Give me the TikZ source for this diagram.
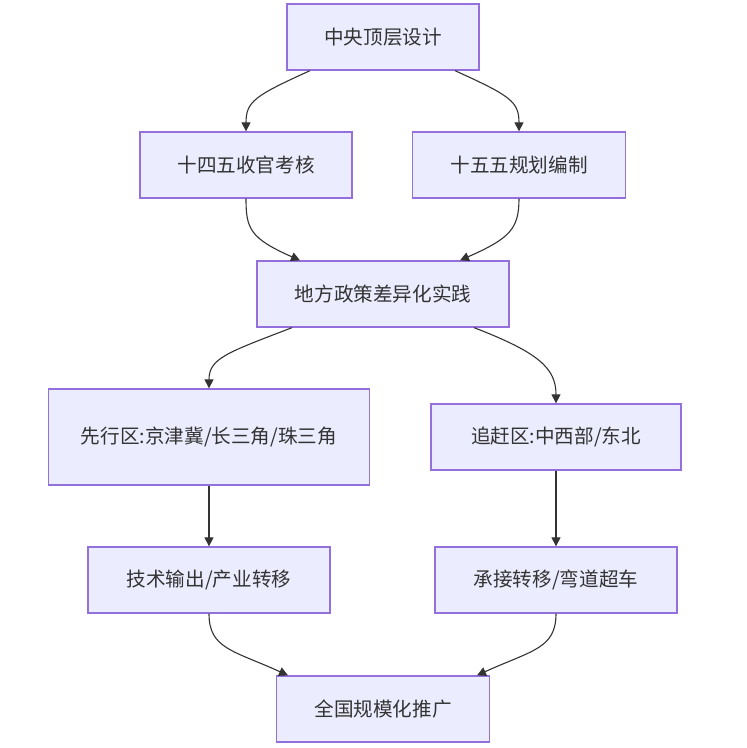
\documentclass[tikz,border=0pt]{standalone}
\usepackage{fontspec}
\setmainfont{Noto Sans CJK SC}
\usetikzlibrary{arrows.meta}
\definecolor{boxfill}{HTML}{ECECFF}
\definecolor{boxline}{HTML}{9370DB}
\definecolor{ink}{HTML}{333333}
\begin{document}
\begin{tikzpicture}[x=1pt, y=-1pt,
    box/.style={draw=boxline, fill=boxfill, line width=1.3pt, inner sep=0pt,
        minimum height=66pt, text=ink, font=\fontsize{19.6}{23}\selectfont},
    flow/.style={-{Triangle[length=9pt, width=9pt]}, line width=1.1pt, ink}]
                % Frame
                \useasboundingbox (0,0) rectangle (747,748);
                
                % Boxes
                \node[box, minimum width=192pt] (top) at (383,37) {中央顶层设计};
                \node[box, minimum width=212pt] (close) at (246,165) {十四五收官考核};
                \node[box, minimum width=213pt] (plan) at (519,165) {十五五规划编制};
                \node[box, minimum width=252pt] (local) at (383,294) {地方政策差异化实践};
                \node[box, minimum width=321pt, minimum height=96pt] (lead) at (209,437) {先行区:京津冀/长三角/珠三角};
                \node[box, minimum width=250pt] (catch) at (556,437) {追赶区:中西部/东北};
                \node[box, minimum width=242pt] (out) at (209,580) {技术输出/产业转移};
                \node[box, minimum width=242pt] (take) at (556,580) {承接转移/弯道超车};
                \node[box, minimum width=213pt] (nation) at (383,709) {全国规模化推广};
                
                % Top down to the two plans
                \draw[flow] ([xshift=-73pt]top.south) .. controls +(-55,25) and +(0,-30) .. (close.north);
                \draw[flow] ([xshift=72pt]top.south) .. controls +(55,25) and +(0,-30) .. (plan.north);
                
                % Plans into local practice
                \draw[flow] (close.south) .. controls +(0,30) and +(-50,-22) .. ([xshift=-83pt]local.north);
                \draw[flow] (plan.south) .. controls +(0,30) and +(50,-22) .. ([xshift=77pt]local.north);
                
                % Local practice splits in two
                \draw[flow] ([xshift=-91pt]local.south) .. controls +(-65,25) and +(0,-30) .. (lead.north);
                \draw[flow] ([xshift=91pt]local.south) .. controls +(65,25) and +(0,-35) .. (catch.north);
                
                % Straight down
                \draw[flow] (lead) -- (out);
                \draw[flow] (catch) -- (take);
                
                % Both ends meet
                \draw[flow] (out.south) .. controls +(0,35) and +(-55,-25) .. ([xshift=-95pt]nation.north);
                \draw[flow] (take.south) .. controls +(0,35) and +(55,-25) .. ([xshift=94pt]nation.north);
            \end{tikzpicture}
\end{document}
